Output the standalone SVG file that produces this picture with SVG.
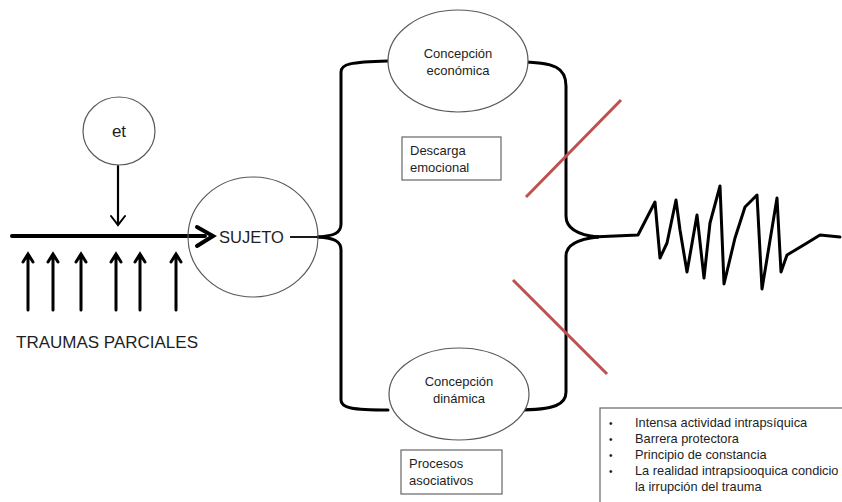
<svg xmlns="http://www.w3.org/2000/svg" width="842" height="502" viewBox="0 0 842 502">
<style>
.node{fill:#fff;stroke:#595959;stroke-width:1.2}
.box{fill:#fff;stroke:#666;stroke-width:1.2}
.t{font-family:"Liberation Sans",Arial,sans-serif;fill:#1e1e1e}
.c{text-anchor:middle}
.br{fill:none;stroke:#000;stroke-width:3;stroke-linecap:round}
.ar{fill:none;stroke:#000;stroke-linecap:round;stroke-linejoin:miter}
.red{stroke:#c0504d;stroke-width:3}
</style>
<rect width="842" height="502" fill="#fff"/>
<g id="connectors">
  <path class="ar" d="M12 236 L205 236" stroke-width="4"/>
  <path class="ar" d="M197 227 L213 236 L197 246" stroke-width="4"/>
  <path class="ar" d="M118 166 L118 224" stroke-width="2.2"/>
  <path class="ar" d="M111 216 L118 225 L125 216" stroke-width="2"/>
  <g stroke-width="3">
    <path class="ar" d="M28 310 L28 256 M23 262 L28 254 L33 262"/>
    <path class="ar" d="M53 310 L53 256 M48 262 L53 254 L58 262"/>
    <path class="ar" d="M81 310 L81 256 M76 262 L81 254 L86 262"/>
    <path class="ar" d="M116 310 L116 256 M111 262 L116 254 L121 262"/>
    <path class="ar" d="M140 310 L140 256 M135 262 L140 254 L145 262"/>
    <path class="ar" d="M176 310 L176 256 M171 262 L176 254 L181 262"/>
  </g>
  <path d="M290 237 L322 237" stroke="#000" stroke-width="1.8" fill="none"/>
  <path class="br" d="M318 237 C334 236 341 233 341 224 L341 72 C341 64 350 62 388 61"/>
  <path class="br" d="M318 237 C334 238 341 241 341 250 L341 400 C341 408 352 410 388 410"/>
  <path class="br" d="M517 62 C556 62 566 68 566 86 L566 216 C566 228 578 235 598 237"/>
  <path class="br" d="M517 410 C556 410 566 404 566 392 L566 256 C566 245 578 239 598 237"/>
  <path class="br" stroke-linejoin="round" d="M592 237 L638 235 L655 202 L660 258 L667 243 L676 200 L680 230 L687 272 L697 215 L704 278 L710 223 L720 186 L724 284 L735 238 L745 207 L757 195 L762 289 L777 198 L781 272 L787 255 L807 243 L820 235 L840 237"/>
  <line class="red" x1="526" y1="197" x2="621" y2="100"/>
  <line class="red" x1="513" y1="280" x2="607" y2="374"/>
</g>
<g id="et">
  <ellipse class="node" cx="119" cy="131" rx="36" ry="34"/>
  <text class="t c" x="119" y="137" font-size="17">et</text>
</g>
<g id="sujeto">
  <ellipse class="node" cx="253" cy="237" rx="65" ry="60" style="fill:none"/>
  <text class="t" x="219" y="243" font-size="16.5">SUJETO</text>
</g>
<g id="traumas">
  <text class="t" x="16" y="348" font-size="17">TRAUMAS PARCIALES</text>
</g>
<g id="economica">
  <ellipse class="node" cx="458" cy="61" rx="70" ry="51"/>
  <text class="t c" x="458" y="58" font-size="13">Concepción</text>
  <text class="t c" x="458" y="75" font-size="13">económica</text>
</g>
<g id="descarga">
  <rect class="box" x="402" y="137" width="99" height="43"/>
  <text class="t" x="410" y="155" font-size="13">Descarga</text>
  <text class="t" x="410" y="172" font-size="13">emocional</text>
</g>
<g id="dinamica">
  <ellipse class="node" cx="459" cy="394" rx="70" ry="46"/>
  <text class="t c" x="459" y="386" font-size="13">Concepción</text>
  <text class="t c" x="459" y="403" font-size="13">dinámica</text>
</g>
<g id="procesos">
  <rect class="box" x="401" y="450" width="101" height="44"/>
  <text class="t" x="409" y="468" font-size="13">Procesos</text>
  <text class="t" x="409" y="485" font-size="13">asociativos</text>
</g>
<g id="lista">
  <rect class="box" x="600" y="408" width="260" height="110"/>
  <g class="t" font-size="12.8">
    <text x="609" y="427" font-size="10">•</text>
    <text x="609" y="443" font-size="10">•</text>
    <text x="609" y="459" font-size="10">•</text>
    <text x="609" y="475" font-size="10">•</text>
    <text x="635" y="427">Intensa actividad intrapsíquica</text>
    <text x="635" y="443">Barrera protectora</text>
    <text x="635" y="459">Principio de constancia</text>
    <text x="635" y="475">La realidad intrapsiooquica condicio</text>
    <text x="635" y="491">la irrupción del trauma</text>
  </g>
</g>
</svg>
